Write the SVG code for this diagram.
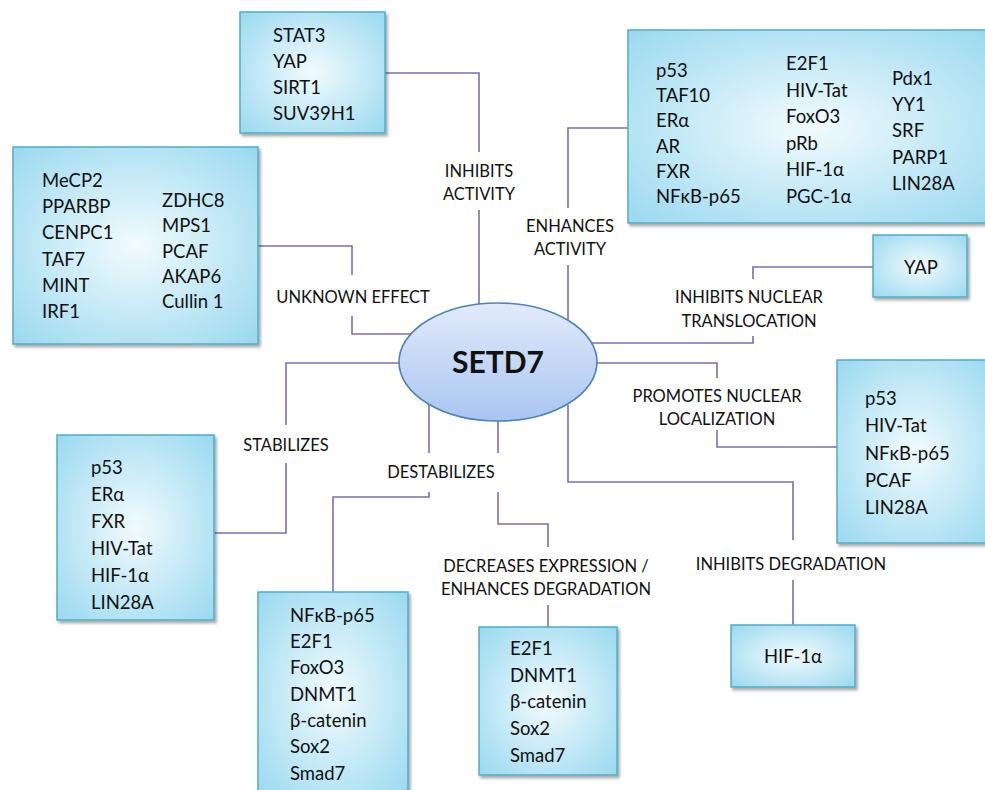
<svg xmlns="http://www.w3.org/2000/svg" width="985" height="790" viewBox="0 0 985 790">
<style>
.box{fill:url(#boxg);stroke:#4fadc8;stroke-width:1.5;filter:url(#sh)}
.t{font-family:Lato,"Open Sans","Liberation Sans",sans-serif;font-size:18.5px;fill:#111}
.lb{font-family:Lato,"Open Sans","Liberation Sans",sans-serif;font-size:16.5px;fill:#111;text-anchor:middle}
.c{fill:none;stroke:#7b6fb0;stroke-width:1.6}
.mid{text-anchor:middle}
</style>
<defs>
<radialGradient id="boxg" cx="50%" cy="50%" r="70%">
<stop offset="0" stop-color="#f2fbfe"/>
<stop offset="1" stop-color="#9ad9ef"/>
</radialGradient>
<linearGradient id="ellg" x1="0" y1="0" x2="0" y2="1">
<stop offset="0" stop-color="#e2ebfb"/>
<stop offset="1" stop-color="#a9c5f1"/>
</linearGradient>
<filter id="sh" x="-10%" y="-10%" width="130%" height="130%">
<feDropShadow dx="2" dy="2.5" stdDeviation="1.8" flood-color="#000" flood-opacity="0.35"/>
</filter>
</defs>
<rect width="985" height="790" fill="#fff"/>
<g id="connectors">
<path class="c" d="M385,73 H479 V152 M479,210 V305"/>
<path class="c" d="M628,128 H568 V208 M568,265 V320"/>
<path class="c" d="M258,246 H352 V275 M352,316 V334 H412"/>
<path class="c" d="M873,267 H753 V279 M753,336 V343 H590"/>
<path class="c" d="M590,363 H717 V378 M717,430 V447 H837"/>
<path class="c" d="M405,363 H286 V425 M286,463 V533 H214"/>
<path class="c" d="M429,405 V453 M429,492 V497 H333 V592"/>
<path class="c" d="M498,415 V453 M498,492 V524 H548 V547 M548,605 V627"/>
<path class="c" d="M568,405 V482 H793 V540 M793,580 V625"/>
</g>
<g id="labels">
<text class="lb" x="479" y="177">INHIBITS</text>
<text class="lb" x="479" y="200">ACTIVITY</text>
<text class="lb" x="570" y="232">ENHANCES</text>
<text class="lb" x="570" y="255">ACTIVITY</text>
<text class="lb" x="353" y="303">UNKNOWN EFFECT</text>
<text class="lb" x="749" y="303">INHIBITS NUCLEAR</text>
<text class="lb" x="749" y="327">TRANSLOCATION</text>
<text class="lb" x="717" y="402">PROMOTES NUCLEAR</text>
<text class="lb" x="717" y="425">LOCALIZATION</text>
<text class="lb" x="286" y="451">STABILIZES</text>
<text class="lb" x="441" y="478">DESTABILIZES</text>
<text class="lb" x="546" y="572">DECREASES EXPRESSION /</text>
<text class="lb" x="546" y="595">ENHANCES DEGRADATION</text>
<text class="lb" x="791" y="570">INHIBITS DEGRADATION</text>
</g>
<g id="setd7">
<ellipse cx="498" cy="362" rx="99" ry="59" fill="url(#ellg)" stroke="#4f81bd" stroke-width="1.6"/>
<text x="498" y="373" class="mid" font-family="Lato,'Open Sans','Liberation Sans',sans-serif" font-weight="bold" font-size="30" fill="#111">SETD7</text>
</g>
<g id="inhibits-activity">
<rect class="box" x="240" y="12" width="145" height="121"/>
<text class="t" x="273" y="42">STAT3</text>
<text class="t" x="273" y="68">YAP</text>
<text class="t" x="273" y="94">SIRT1</text>
<text class="t" x="273" y="120">SUV39H1</text>
</g>
<g id="enhances-activity">
<rect class="box" x="628" y="30" width="365" height="193"/>
<text class="t" x="656" y="77">p53</text>
<text class="t" x="656" y="102">TAF10</text>
<text class="t" x="656" y="127">ERα</text>
<text class="t" x="656" y="153">AR</text>
<text class="t" x="656" y="178">FXR</text>
<text class="t" x="656" y="203">NFκB-p65</text>
<text class="t" x="786" y="70">E2F1</text>
<text class="t" x="786" y="97">HIV-Tat</text>
<text class="t" x="786" y="123">FoxO3</text>
<text class="t" x="786" y="150">pRb</text>
<text class="t" x="786" y="176">HIF-1α</text>
<text class="t" x="786" y="203">PGC-1α</text>
<text class="t" x="892" y="85">Pdx1</text>
<text class="t" x="892" y="111">YY1</text>
<text class="t" x="892" y="137">SRF</text>
<text class="t" x="892" y="164">PARP1</text>
<text class="t" x="892" y="190">LIN28A</text>
</g>
<g id="unknown-effect">
<rect class="box" x="13" y="147" width="245" height="197"/>
<text class="t" x="42" y="187">MeCP2</text>
<text class="t" x="42" y="213">PPARBP</text>
<text class="t" x="42" y="239">CENPC1</text>
<text class="t" x="42" y="266">TAF7</text>
<text class="t" x="42" y="292">MINT</text>
<text class="t" x="42" y="318">IRF1</text>
<text class="t" x="162" y="207">ZDHC8</text>
<text class="t" x="162" y="232">MPS1</text>
<text class="t" x="162" y="258">PCAF</text>
<text class="t" x="162" y="283">AKAP6</text>
<text class="t" x="162" y="308">Cullin 1</text>
</g>
<g id="inhibits-nuclear-translocation">
<rect class="box" x="873" y="235" width="94" height="62"/>
<text class="t mid" x="921" y="274">YAP</text>
</g>
<g id="promotes-nuclear-localization">
<rect class="box" x="837" y="360" width="156" height="183"/>
<text class="t" x="865" y="405">p53</text>
<text class="t" x="865" y="432">HIV-Tat</text>
<text class="t" x="865" y="460">NFκB-p65</text>
<text class="t" x="865" y="487">PCAF</text>
<text class="t" x="865" y="514">LIN28A</text>
</g>
<g id="stabilizes">
<rect class="box" x="57" y="435" width="157" height="185"/>
<text class="t" x="91" y="474">p53</text>
<text class="t" x="91" y="501">ERα</text>
<text class="t" x="91" y="528">FXR</text>
<text class="t" x="91" y="555">HIV-Tat</text>
<text class="t" x="91" y="582">HIF-1α</text>
<text class="t" x="91" y="609">LIN28A</text>
</g>
<g id="destabilizes">
<rect class="box" x="258" y="592" width="150" height="205"/>
<text class="t" x="290" y="622">NFκB-p65</text>
<text class="t" x="290" y="648">E2F1</text>
<text class="t" x="290" y="674">FoxO3</text>
<text class="t" x="290" y="701">DNMT1</text>
<text class="t" x="290" y="727">β-catenin</text>
<text class="t" x="290" y="753">Sox2</text>
<text class="t" x="290" y="780">Smad7</text>
</g>
<g id="decreases-expression">
<rect class="box" x="479" y="627" width="138" height="148"/>
<text class="t" x="510" y="655">E2F1</text>
<text class="t" x="510" y="682">DNMT1</text>
<text class="t" x="510" y="708">β-catenin</text>
<text class="t" x="510" y="735">Sox2</text>
<text class="t" x="510" y="762">Smad7</text>
</g>
<g id="inhibits-degradation">
<rect class="box" x="731" y="625" width="124" height="62"/>
<text class="t mid" x="793" y="663">HIF-1α</text>
</g>
</svg>
